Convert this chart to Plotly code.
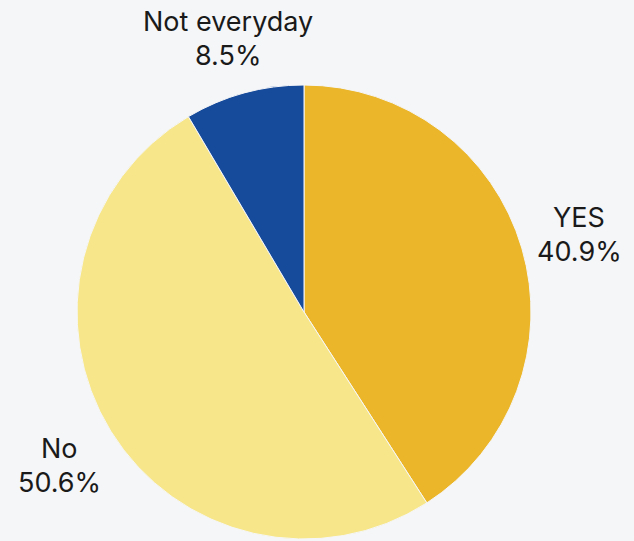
import math
import plotly.graph_objects as go

labels = ["YES", "No", "Not everyday"]
values = [40.9, 50.6, 8.5]
colors = ["#EBB62A", "#F8E78A", "#164A9B"]

W, H = 634, 541
# pie domain in pixels
PX0, PX1 = 77, 531
PY_TOP, PY_BOT = 85, 539
CX = (PX0 + PX1) / 2
CY = (PY_TOP + PY_BOT) / 2
R = (PX1 - PX0) / 2
LABEL_DIST = R + 60
LABEL_SHIFT_Y = 3
LINE_GAP = 34

fig = go.Figure(go.Pie(
    labels=labels,
    values=values,
    sort=False,
    direction="clockwise",
    rotation=0,
    marker=dict(colors=colors, line=dict(color="#F5F6F8", width=1)),
    textinfo="none",
    showlegend=False,
    hoverinfo="label+percent",
    domain=dict(x=[PX0 / W, PX1 / W], y=[1 - PY_BOT / H, 1 - PY_TOP / H]),
))

total = sum(values)
cum = 0.0
font = dict(family="Inter", size=27, color="#1A1A1A")
for lab, v in zip(labels, values):
    mid = (cum + v / 2) / total * 2 * math.pi
    cum += v
    px = CX + LABEL_DIST * math.sin(mid)
    py = CY - LABEL_DIST * math.cos(mid) + LABEL_SHIFT_Y
    pct = f"{v / total * 100:.1f}%"
    for text, dy in ((lab, -LINE_GAP / 2), (pct, LINE_GAP / 2)):
        fig.add_annotation(
            x=px / W, y=1 - (py + dy) / H, xref="paper", yref="paper",
            text=text, showarrow=False, xanchor="center", yanchor="middle",
            font=font,
        )

fig.update_layout(
    width=W, height=H,
    margin=dict(l=0, r=0, t=0, b=0),
    paper_bgcolor="#F5F6F8",
    plot_bgcolor="#F5F6F8",
)

fig.write_html(
    "out.html",
    config={"displayModeBar": False},
    post_script="document.body.style.margin='0';document.body.style.background='#F5F6F8';",
)
